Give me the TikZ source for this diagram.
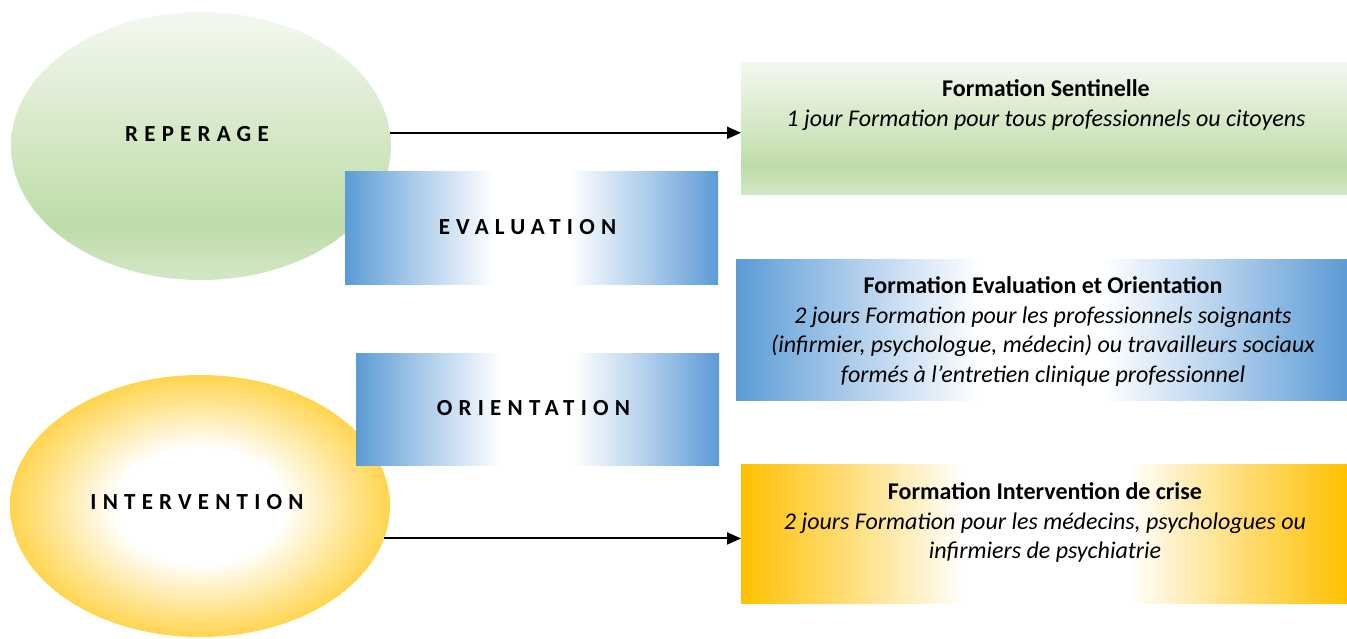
\documentclass[tikz,border=0pt]{standalone}
\usepackage{fontspec}
\setmainfont{Carlito}
\newfontfamily\spacedfont[LetterSpace=27]{Carlito}
\usetikzlibrary{shapes.geometric,arrows.meta}
\definecolor{grT}{HTML}{F4F8F0}
\definecolor{grM}{HTML}{BEDCA8}
\definecolor{grB}{HTML}{D3E7C7}
\definecolor{blE}{HTML}{5B9BD5}
\definecolor{blM}{HTML}{A9CAEA}
\definecolor{goE}{HTML}{FFC000}
\definecolor{goM}{HTML}{FFDE7A}
\definecolor{yeE}{HTML}{FFD54F}
\pgfdeclareverticalshading{greenv}{100bp}{color(0bp)=(grB); color(25bp)=(grB); color(35bp)=(grM); color(75bp)=(grT); color(100bp)=(grT)}
\pgfdeclarehorizontalshading{bluew}{100bp}{color(0bp)=(blE); color(25bp)=(blE); color(34bp)=(blM); color(45bp)=(white); color(55bp)=(white); color(66bp)=(blM); color(75bp)=(blE); color(100bp)=(blE)}
\pgfdeclarehorizontalshading{goldw}{100bp}{color(0bp)=(goE); color(25bp)=(goE); color(34bp)=(goM); color(43.5bp)=(white); color(57bp)=(white); color(66bp)=(goM); color(75bp)=(goE); color(100bp)=(goE)}
\pgfdeclareradialshading{goldr}{\pgfpoint{0bp}{0bp}}{color(0bp)=(white); color(11bp)=(white); color(25bp)=(yeE); color(50bp)=(yeE)}
\tikzset{
  oval/.style={ellipse, draw=none, inner sep=0pt, outer sep=0pt, minimum width=380pt, minimum height=268pt},
  stagebox/.style={rectangle, draw=none, inner sep=0pt, shading=bluew},
  trainbox/.style={rectangle, draw=none, inner sep=0pt, outer sep=0pt, minimum width=606pt},
  spaced/.style={font=\spacedfont\bfseries\fontsize{23}{27}\selectfont, inner sep=0pt},
  body/.style={font=\fontsize{24}{29.5}\selectfont, align=center, inner sep=0pt, anchor=north},
  conn/.style={line width=2pt, -{Triangle[length=14pt,width=12pt]}}
}
\begin{document}
\begin{tikzpicture}[x=1pt,y=-1pt]
\useasboundingbox (0,0) rectangle (1347,638);
% ellipses
\node[oval, shading=greenv] (rep) at (201,146) {};
\node[oval, shading=goldr, minimum height=262pt] (int) at (200,506) {};
% stage boxes
\node[stagebox, minimum width=373pt, minimum height=113pt] (eval) at (531.5,227.5) {};
\node[stagebox, minimum width=363pt, minimum height=112pt] (orient) at (537.5,409) {};
% training boxes
\node[trainbox, minimum height=132pt, shading=greenv] (sent) at (1044,128) {};
\node[trainbox, minimum width=611pt, minimum height=141pt, shading=bluew] (feo) at (1041.5,329.5) {};
\node[trainbox, minimum height=139pt, shading=goldw] (crise) at (1044,533.5) {};
% labels
\node[spaced] (repl) at (197,134) {REPERAGE};
\node[spaced] (intl) at (197,502) {INTERVENTION};
\node[spaced] (evall) at (527.5,227) {EVALUATION};
\node[spaced] (orientl) at (533.5,408) {ORIENTATION};
\node[body] (sentt) at (1046,79.5) {\textbf{Formation Sentinelle}\\\itshape 1 jour Formation pour tous professionnels ou citoyens};
\node[body] (feot) at (1043,276.5) {\textbf{Formation Evaluation et Orientation}\\\itshape 2 jours Formation pour les professionnels soignants\\\itshape (infirmier, psychologue, médecin) ou travailleurs sociaux\\\itshape formés à l’entretien clinique professionnel};
\node[body] (criset) at (1045,482.5) {\textbf{Formation Intervention de crise}\\\itshape 2 jours Formation pour les médecins, psychologues ou\\\itshape infirmiers de psychiatrie};
% connectors
\draw[conn] (rep.4.5) -- (rep.4.5 -| sent.west);
\draw[conn] (int.-10.6) -- (int.-10.6 -| crise.west);
\end{tikzpicture}
\end{document}
